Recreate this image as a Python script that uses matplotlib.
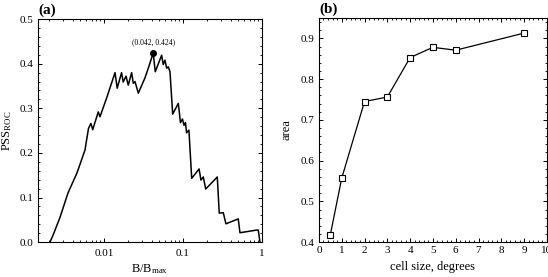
import matplotlib
matplotlib.use("Agg")
import matplotlib.pyplot as plt
from matplotlib.ticker import MultipleLocator, FixedLocator, FixedFormatter, LogLocator, NullFormatter

plt.rcParams["font.family"] = "Liberation Serif"
plt.rcParams["mathtext.fontset"] = "custom"
plt.rcParams["mathtext.rm"] = "Liberation Serif"
plt.rcParams["mathtext.it"] = "Liberation Serif:italic"

# panel (a): PSS_ROC vs B/B_max
b_ratio = [0.00207, 0.00226, 0.00277, 0.0035, 0.00455, 0.00574, 0.00637, 0.00684,
           0.0072, 0.00847, 0.0089, 0.0108, 0.0138, 0.0147, 0.0167, 0.0175, 0.019,
           0.0203, 0.0224, 0.0235, 0.0247, 0.0272, 0.033, 0.0364, 0.042, 0.0446,
           0.0537, 0.0563, 0.0592, 0.0622, 0.0652, 0.0685, 0.0741, 0.0873, 0.093,
           0.0986, 0.103, 0.1076, 0.111, 0.119, 0.129, 0.160, 0.169, 0.181, 0.194,
           0.272, 0.288, 0.324, 0.35, 0.501, 0.527, 0.857, 0.898, 0.944]
pss = [0.0, 0.015, 0.055, 0.11, 0.155, 0.206, 0.255, 0.266,
       0.252, 0.292, 0.281, 0.323, 0.380, 0.345, 0.380, 0.359, 0.372,
       0.352, 0.380, 0.356, 0.360, 0.334, 0.368, 0.390, 0.424, 0.382,
       0.419, 0.398, 0.408, 0.390, 0.393, 0.382, 0.287, 0.311, 0.268,
       0.276, 0.262, 0.268, 0.245, 0.251, 0.143, 0.164, 0.139, 0.146, 0.119,
       0.146, 0.065, 0.066, 0.041, 0.052, 0.021, 0.027, 0.027, 0.0]
peak = (0.042, 0.424)

# panel (b): area vs cell size
cell_size = [0.5, 1, 2, 3, 4, 5, 6, 9]
area = [0.418, 0.557, 0.745, 0.756, 0.853, 0.878, 0.871, 0.913]

fig = plt.figure(figsize=(5.48, 2.77), dpi=100)
ax1 = fig.add_axes([0.0693, 0.126, 0.4087, 0.805])
ax2 = fig.add_axes([0.582, 0.126, 0.416, 0.809])


def style(ax):
    ax.tick_params(which="both", direction="in", top=True, right=True,
                   labelsize=8, pad=3)
    ax.tick_params(which="major", length=3, width=0.7)
    ax.tick_params(which="minor", length=1.5, width=0.6)
    for s in ax.spines.values():
        s.set_linewidth(0.8)


ax1.plot(b_ratio, pss, color="black", lw=1.1)
ax1.plot(*peak, "o", color="black", ms=4)
ax1.annotate("(0.042, 0.424)", peak, xytext=(0, 5), textcoords="offset points",
             ha="center", va="bottom", fontsize=5.5)
ax1.set_xscale("log")
ax1.set_xlim(0.00146, 1)
ax1.set_ylim(0, 0.5)
ax1.xaxis.set_major_locator(FixedLocator([0.01, 0.1, 1]))
ax1.xaxis.set_major_formatter(FixedFormatter(["0.01", "0.1", "1"]))
ax1.xaxis.set_minor_locator(LogLocator(base=10, subs=range(2, 10)))
ax1.xaxis.set_minor_formatter(NullFormatter())
ax1.yaxis.set_major_locator(MultipleLocator(0.1))
ax1.yaxis.set_minor_locator(MultipleLocator(0.02))
ax1.yaxis.set_major_formatter(lambda v, p: f"{v:.1f}")
style(ax1)
ax1.tick_params(axis="x", pad=5)
ax1.set_xlabel(r"B/B$_{\mathrm{max}}$", fontsize=9, labelpad=3)
ax1.set_ylabel(r"PSS$_{\mathrm{ROC}}$", fontsize=9, labelpad=4)
ax1.text(0.0, 1.01, "(a)", transform=ax1.transAxes, fontsize=11,
         fontweight="bold", ha="left", va="bottom")

ax2.plot(cell_size, area, "-s", color="black", lw=0.9, ms=4.5,
         mfc="white", mec="black", mew=0.8)
ax2.set_xlim(0, 10)
ax2.set_ylim(0.4, 0.95)
ax2.xaxis.set_major_locator(MultipleLocator(1))
ax2.xaxis.set_minor_locator(MultipleLocator(0.2))
ax2.yaxis.set_major_locator(MultipleLocator(0.1))
ax2.yaxis.set_minor_locator(MultipleLocator(0.02))
ax2.yaxis.set_major_formatter(lambda v, p: f"{v:.1f}")
style(ax2)
ax2.set_xlabel("cell size, degrees", fontsize=9, labelpad=4)
ax2.set_ylabel("area", fontsize=9, labelpad=6)
ax2.text(0.0, 1.01, "(b)", transform=ax2.transAxes, fontsize=11,
         fontweight="bold", ha="left", va="bottom")

fig.savefig("out.png", dpi=100)
